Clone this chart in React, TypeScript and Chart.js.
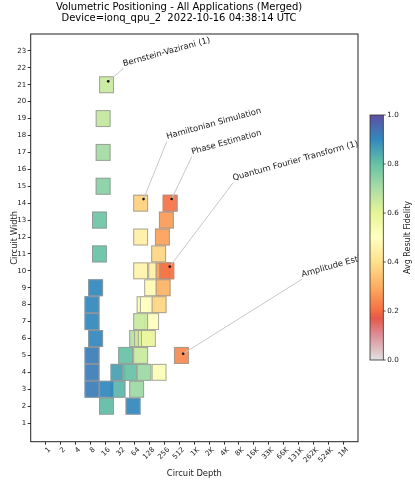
import React, { useEffect, useRef } from "react";
import { Chart, registerables } from "chart.js";

Chart.register(...registerables);

// ---- data ----
const circuitDepths = [
  17.1, 14.6, 14.6, 14.6, 12.3, 12.3, 10.3, 8.7, 8.7, 10.3, 8.7, 8.7, 8.7,
  29.2, 17.1, 17.1, 29.2, 50.2, 98.4, 198, 41.6, 83.9, 58.9, 69.6,
  69.6, 87.4, 104, 120.3, 140, 83.9, 98.4, 114.5, 198, 140, 239,
  83.9, 169, 239, 284, 194, 83.9, 231, 278, 83.9, 331, 560,
];
const circuitWidths = [
  21, 19, 17, 15, 13, 11, 9, 8, 7, 6, 5, 4, 3,
  3, 3, 2, 4, 4, 4, 4, 5, 5, 2, 3,
  6, 6, 6, 6, 7, 7, 8, 8, 8, 9, 9,
  10, 10, 10, 10, 11, 12, 12, 13, 14, 14, 5,
];
const avgFidelities = [
  0.65, 0.66, 0.71, 0.75, 0.79, 0.8, 0.9, 0.9, 0.9, 0.9, 0.92, 0.92, 0.92,
  0.82, 0.9, 0.81, 0.86, 0.8, 0.72, 0.52, 0.8, 0.65, 0.9, 0.72,
  0.68, 0.64, 0.61, 0.58, 0.5, 0.65, 0.52, 0.5, 0.38, 0.48, 0.31,
  0.46, 0.45, 0.275, 0.21, 0.38, 0.45, 0.28, 0.27, 0.37, 0.21, 0.245,
];

const depthTickValues = [
  1, 2, 4, 8, 16, 32, 64, 128, 256, 512, 1024, 2048, 4096, 8192, 16384,
  32768, 65536, 131072, 262144, 524288, 1048576,
];
const depthTickLabels = [
  "1", "2", "4", "8", "16", "32", "64", "128", "256", "512", "1K", "2K", "4K",
  "8K", "16K", "33K", "66K", "131K", "262K", "524K", "1M",
];
const widthTickValues = [
  1, 2, 3, 4, 5, 6, 7, 8, 9, 10, 11, 12, 13, 14, 15, 16, 17, 18, 19, 20, 21, 22, 23,
];
const colorbarTicks = [0, 0.2, 0.4, 0.6, 0.8, 1.0];
const colorbarTickLabels = ["0.0", "0.2", "0.4", "0.6", "0.8", "1.0"];

const annotationLabels = [
  "Bernstein-Vazirani (1)",
  "Hamiltonian Simulation",
  "Phase Estimation",
  "Quantum Fourier Transform (1)",
  "Amplitude Estimation",
];
const annotationDepths = [18.5, 96, 355, 326, 609];
const annotationWidths = [21.2, 14.24, 14.25, 10.25, 5.1];
const annotationTextDepths = [37.5, 284, 910, 6208, 153000];
const annotationTextWidths = [21.95, 17.65, 16.75, 15.2, 9.5];

const title = [
  "Volumetric Positioning - All Applications (Merged)",
  "Device=ionq_qpu_2  2022-10-16 04:38:14 UTC",
];

// ---- style ----
const FONT = "'DejaVu Sans', sans-serif";
const CMAP: [number, string][] = [
  [0.0, "#e2e2e2"],
  [0.1, "#dc8f98"],
  [0.17, "#e5594a"],
  [0.2, "#f46d43"],
  [0.3, "#fdae61"],
  [0.4, "#fee08b"],
  [0.5, "#ffffbf"],
  [0.6, "#e6f598"],
  [0.7, "#abdda4"],
  [0.8, "#66c2a5"],
  [0.9, "#3288bd"],
  [1.0, "#5e4fa2"],
];

function hexToRgb(h: string) {
  const n = parseInt(h.slice(1), 16);
  return [(n >> 16) & 255, (n >> 8) & 255, n & 255];
}

function colorFor(v: number) {
  const t = Math.max(0, Math.min(1, v));
  for (let i = 1; i < CMAP.length; i++) {
    if (t <= CMAP[i][0]) {
      const [a, ca] = CMAP[i - 1];
      const [b, cb] = CMAP[i];
      const f = (t - a) / (b - a);
      const A = hexToRgb(ca);
      const B = hexToRgb(cb);
      const r = Math.round(A[0] + (B[0] - A[0]) * f);
      const g = Math.round(A[1] + (B[1] - A[1]) * f);
      const bl = Math.round(A[2] + (B[2] - A[2]) * f);
      return `rgb(${r},${g},${bl})`;
    }
  }
  return CMAP[CMAP.length - 1][1];
}

const squaresPlugin = {
  id: "volSquares",
  beforeDatasetsDraw(chart: any) {
    const { ctx, chartArea, scales } = chart;
    const x = scales.x;
    const y = scales.y;
    ctx.save();
    ctx.beginPath();
    ctx.rect(chartArea.left, chartArea.top, chartArea.right - chartArea.left, chartArea.bottom - chartArea.top);
    ctx.clip();
    for (let i = 0; i < circuitDepths.length; i++) {
      const d = circuitDepths[i];
      const w = circuitWidths[i];
      const x0 = x.getPixelForValue(d / Math.SQRT2);
      const x1 = x.getPixelForValue(d * Math.SQRT2);
      const y0 = y.getPixelForValue(w + 0.5);
      const y1 = y.getPixelForValue(w - 0.5);
      ctx.globalAlpha = 0.93;
      ctx.fillStyle = colorFor(avgFidelities[i]);
      ctx.fillRect(x0, y0, x1 - x0, y1 - y0);
      ctx.globalAlpha = 1;
      ctx.strokeStyle = "rgba(150,150,150,0.85)";
      ctx.lineWidth = 1;
      ctx.strokeRect(x0 + 0.5, y0 + 0.5, x1 - x0 - 1, y1 - y0 - 1);
    }
    ctx.restore();
  },
  afterDatasetsDraw(chart: any) {
    const { ctx, chartArea, scales } = chart;
    const x = scales.x;
    const y = scales.y;
    ctx.save();
    ctx.beginPath();
    ctx.rect(chartArea.left, chartArea.top, chartArea.right - chartArea.left, chartArea.bottom - chartArea.top);
    ctx.clip();
    const rot = (-15.5 * Math.PI) / 180;
    for (let i = 0; i < annotationLabels.length; i++) {
      const px = x.getPixelForValue(annotationDepths[i]);
      const py = y.getPixelForValue(annotationWidths[i]);
      const tx = x.getPixelForValue(annotationTextDepths[i]);
      const ty = y.getPixelForValue(annotationTextWidths[i]);
      ctx.strokeStyle = "#c8c8c8";
      ctx.lineWidth = 1;
      ctx.beginPath();
      ctx.moveTo(px, py);
      ctx.lineTo(tx, ty);
      ctx.stroke();
      ctx.fillStyle = "#111";
      ctx.beginPath();
      ctx.arc(px, py, 1.3, 0, Math.PI * 2);
      ctx.fill();
      ctx.save();
      ctx.translate(tx, ty);
      ctx.rotate(rot);
      ctx.font = `8.4px ${FONT}`;
      ctx.fillStyle = "#1a1a1a";
      ctx.textAlign = "left";
      ctx.textBaseline = "alphabetic";
      ctx.fillText(annotationLabels[i], 1, -2.2);
      ctx.restore();
    }
    ctx.restore();
    // frame
    ctx.save();
    ctx.strokeStyle = "#222";
    ctx.lineWidth = 1;
    ctx.strokeRect(chartArea.left, chartArea.top, chartArea.right - chartArea.left, chartArea.bottom - chartArea.top);
    ctx.restore();
  },
  afterDraw(chart: any) {
    const { ctx, chartArea } = chart;
    const cbLeft = chartArea.right + 12;
    const cbW = 13.3;
    const cbTop = 115;
    const cbH = 245;
    ctx.save();
    for (let p = 0; p < cbH; p++) {
      const v = 1 - (p + 0.5) / cbH;
      ctx.fillStyle = colorFor(v);
      ctx.fillRect(cbLeft, cbTop + p, cbW, 1.2);
    }
    ctx.strokeStyle = "#333";
    ctx.lineWidth = 0.8;
    ctx.strokeRect(cbLeft, cbTop, cbW, cbH);
    ctx.font = `7.2px ${FONT}`;
    ctx.fillStyle = "#1a1a1a";
    ctx.textAlign = "left";
    ctx.textBaseline = "middle";
    for (let i = 0; i < colorbarTicks.length; i++) {
      const ty = cbTop + cbH - colorbarTicks[i] * cbH;
      ctx.beginPath();
      ctx.moveTo(cbLeft + cbW, ty);
      ctx.lineTo(cbLeft + cbW + 2.5, ty);
      ctx.stroke();
      ctx.fillText(colorbarTickLabels[i], cbLeft + cbW + 4, ty);
    }
    ctx.save();
    ctx.translate(408, cbTop + cbH / 2);
    ctx.rotate(-Math.PI / 2);
    ctx.font = `8px ${FONT}`;
    ctx.textAlign = "center";
    ctx.textBaseline = "middle";
    ctx.fillText("Avg Result Fidelity", 0, 0);
    ctx.restore();
    ctx.restore();
  },
};

export default function App() {
  const ref = useRef<HTMLCanvasElement | null>(null);
  useEffect(() => {
    if (!ref.current) return;
    const chart = new Chart(ref.current, {
      type: "scatter",
      data: {
        datasets: [
          {
            label: "circuits",
            data: circuitDepths.map((d, i) => ({ x: d, y: circuitWidths[i] })),
            pointRadius: 0,
            pointHoverRadius: 0,
            showLine: false,
          },
        ],
      },
      options: {
        animation: false,
        responsive: false,
        devicePixelRatio: 1,
        layout: { padding: { top: 0, left: 0, right: 57, bottom: 0 } },
        plugins: {
          legend: { display: false },
          tooltip: { enabled: false },
          title: {
            display: true,
            text: title,
            color: "#000",
            font: { family: FONT, size: 10, weight: "normal", lineHeight: 1.1 },
            padding: { top: 2, bottom: 10 },
          },
        },
        scales: {
          x: {
            type: "logarithmic",
            min: 0.5,
            max: 2097152,
            bounds: "data",
            afterBuildTicks: (axis: any) => {
              axis.ticks = depthTickValues.map((v) => ({ value: v }));
            },
            afterFit: (axis: any) => {
              axis.height = 41.3;
            },
            ticks: {
              autoSkip: false,
              minRotation: 45,
              maxRotation: 45,
              padding: 1,
              labelOffset: 4,
              color: "#1a1a1a",
              font: { family: FONT, size: 7 },
              callback: (_v: any, i: number) => depthTickLabels[i],
            },
            grid: { display: true, drawOnChartArea: false, drawTicks: true, tickLength: 3, color: "#333" },
            border: { display: false },
            title: {
              display: true,
              text: "Circuit Depth",
              color: "#1a1a1a",
              font: { family: FONT, size: 8.4 },
              padding: { top: 0, bottom: 4.5 },
            },
          },
          y: {
            type: "linear",
            min: -0.1,
            max: 24,
            bounds: "data",
            afterBuildTicks: (axis: any) => {
              axis.ticks = widthTickValues.map((v) => ({ value: v }));
            },
            afterFit: (axis: any) => {
              axis.width = 30.7;
            },
            ticks: {
              autoSkip: false,
              padding: 1.5,
              color: "#1a1a1a",
              font: { family: FONT, size: 7 },
              callback: (v: any) => String(v),
            },
            grid: { display: true, drawOnChartArea: false, drawTicks: true, tickLength: 3, color: "#333" },
            border: { display: false },
            title: {
              display: true,
              text: "Circuit Width",
              color: "#1a1a1a",
              font: { family: FONT, size: 8.4 },
              padding: { top: 9.5, bottom: 0 },
            },
          },
        },
      },
      plugins: [squaresPlugin],
    } as any);
    return () => chart.destroy();
  }, []);
  return (
    <div style={{ position: "fixed", left: 0, top: 0, width: 415, height: 483, background: "#fff" }}>
      <canvas ref={ref} width={415} height={483} style={{ width: 415, height: 483, display: "block" }} />
    </div>
  );
}
